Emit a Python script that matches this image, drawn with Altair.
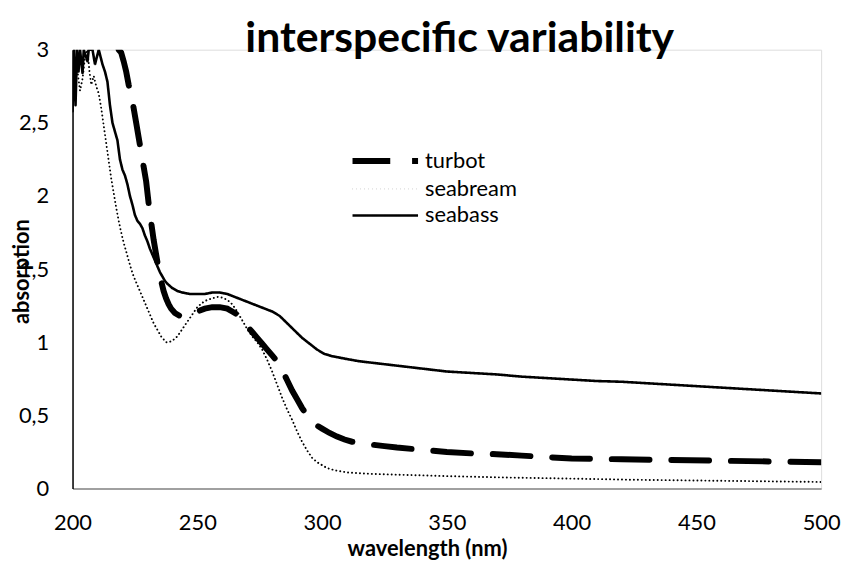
import altair as alt
import pandas as pd

FONT = "Lato"

series_names = ["turbot", "seabream", "seabass"]

turbot_nm = [218.5, 219.5, 220.5, 221.5, 222.5, 223.5, 224.5, 225.5, 226.5, 227.5, 228.5, 229.5,
             230.5, 231.5, 232.5, 233.5, 234.5, 235.5, 236.5, 237.5, 238.5, 239.5, 241, 243, 245,
             247, 250, 253, 256, 259, 262, 264, 266, 268, 270, 272, 274, 276, 278, 280, 282, 284,
             286, 288, 290, 292, 294, 296, 298, 300, 303, 306, 309, 312, 316, 320, 325, 330, 340,
             350, 360, 370, 380, 390, 400, 420, 440, 460, 480, 500]
turbot_abs = [3.0, 2.98, 2.92, 2.85, 2.76, 2.68, 2.6, 2.5, 2.4, 2.3, 2.2, 2.1,
              1.95, 1.82, 1.7, 1.6, 1.5, 1.42, 1.35, 1.3, 1.26, 1.23, 1.2, 1.18, 1.18,
              1.19, 1.21, 1.23, 1.24, 1.24, 1.23, 1.21, 1.19, 1.15, 1.11, 1.07, 1.03, 0.99, 0.95, 0.91, 0.87, 0.81,
              0.74, 0.67, 0.61, 0.55, 0.5, 0.46, 0.43, 0.41, 0.38, 0.355, 0.335, 0.32, 0.31, 0.30, 0.29, 0.28, 0.265,
              0.25, 0.24, 0.235, 0.225, 0.215, 0.205, 0.2, 0.195, 0.19, 0.185, 0.18]

seabream_nm = [200.5, 201.3, 202, 203, 204, 205, 206, 206.8, 207.5, 208.5, 209.5, 210.5, 211.5, 212.5,
               213.5, 214.5, 215.5, 216.5, 217.5, 218.5, 219.5, 220.5, 221.5, 222.5, 223.5, 224.5,
               225.5, 226.5, 227.5, 228.5, 229.5, 230.5, 231.5, 232.5, 233.5, 234.5, 235.5, 236.5,
               237.5, 238.5, 240, 242, 244, 246, 248, 250, 252, 254, 256, 258, 260, 262, 264, 266,
               268, 270, 272, 274, 276, 278, 280, 282, 284, 286, 288, 290, 292, 294, 296, 298, 300,
               302, 305, 310, 320, 330, 350, 375, 400, 425, 450, 475, 500]
seabream_abs = [2.7, 2.9, 2.85, 2.72, 2.8, 2.95, 3.0, 2.85, 2.76, 2.82, 2.75, 2.7, 2.6, 2.48,
                2.36, 2.24, 2.12, 2.02, 1.92, 1.83, 1.75, 1.68, 1.62, 1.56, 1.5, 1.45,
                1.41, 1.37, 1.33, 1.29, 1.25, 1.21, 1.17, 1.13, 1.1, 1.07, 1.04, 1.02,
                1.0, 1.0, 1.01, 1.04, 1.09, 1.14, 1.19, 1.24, 1.27, 1.29, 1.3, 1.31, 1.305, 1.29, 1.26, 1.21,
                1.15, 1.09, 1.04, 1.0, 0.95, 0.88, 0.8, 0.71, 0.62, 0.54, 0.47, 0.39, 0.32, 0.26, 0.21, 0.18, 0.16,
                0.14, 0.125, 0.11, 0.1, 0.095, 0.085, 0.075, 0.068, 0.06, 0.055, 0.05, 0.045]

seabass_nm = [200, 200.6, 201.2, 201.8, 202.4, 203, 204, 204.5, 206, 206.5, 208, 209, 210.5, 212,
              213, 214, 215, 216, 217, 218, 219, 220, 221, 222, 223, 224, 225, 226, 227, 228, 229,
              230, 231, 232, 233, 234, 235, 236, 237, 238, 240, 242, 244, 247, 250, 253, 256, 259,
              262, 265, 268, 271, 274, 277, 280, 283, 286, 289, 292, 295, 298, 301, 304, 307, 310,
              315, 320, 325, 330, 340, 350, 360, 370, 380, 390, 400, 410, 420, 430, 440, 450, 460,
              470, 480, 490, 500]
seabass_abs = [2.58, 3.0, 2.62, 3.0, 2.85, 3.0, 2.84, 3.0, 2.92, 3.0, 3.0, 2.9, 3.0, 2.9,
               2.85, 2.78, 2.62, 2.5, 2.44, 2.38, 2.25, 2.18, 2.14, 2.08, 2.0, 1.94, 1.87, 1.83, 1.81, 1.78, 1.73,
               1.69, 1.64, 1.6, 1.56, 1.52, 1.48, 1.45, 1.42, 1.4, 1.37, 1.35, 1.34, 1.33, 1.33, 1.33, 1.34, 1.34,
               1.33, 1.31, 1.29, 1.27, 1.25, 1.23, 1.21, 1.18, 1.13, 1.08, 1.03, 0.99, 0.95, 0.92, 0.905, 0.895, 0.885,
               0.87, 0.86, 0.85, 0.84, 0.82, 0.80, 0.79, 0.78, 0.765, 0.755, 0.745, 0.735, 0.73, 0.72, 0.71, 0.70, 0.69,
               0.68, 0.67, 0.66, 0.65]

x_ticks = [200, 250, 300, 350, 400, 450, 500]
y_ticks = [0, 0.5, 1, 1.5, 2, 2.5, 3]

rows = []
for name, xs, ys in [("turbot", turbot_nm, turbot_abs),
                     ("seabream", seabream_nm, seabream_abs),
                     ("seabass", seabass_nm, seabass_abs)]:
    for xv, yv in zip(xs, ys):
        rows.append({"series": name, "wavelength": xv, "absorption": yv})
df = pd.DataFrame(rows)

legend = alt.Legend(
    title=None, orient="none", legendX=304, legendY=101,
    symbolType="M-6,0L6,0", symbolSize=121, symbolStrokeColor="black",
    labelFont=FONT, labelFontSize=22, labelColor="black", labelOffset=29,
    rowPadding=5,
)

chart = alt.Chart(df).mark_line(clip=True, color="black", strokeCap="round").encode(
    x=alt.X("wavelength:Q",
            scale=alt.Scale(domain=[200, 500], nice=False, zero=False),
            axis=alt.Axis(values=x_ticks, ticks=False, grid=False, domainColor="#868686",
                          domainWidth=1.5, labelFont=FONT, labelFontSize=22, labelColor="black",
                          labelPadding=24, labelFlush=False, labelOverlap=False,
                          title="wavelength (nm)", titleFont=FONT,
                          titleFontSize=22, titleFontWeight="bold", titleColor="black",
                          titleX=357, titleY=60, titleBaseline="middle", titleAlign="center")),
    y=alt.Y("absorption:Q",
            scale=alt.Scale(domain=[0, 3], nice=False),
            axis=alt.Axis(values=y_ticks, ticks=False, grid=False, domainColor="black",
                          domainWidth=1.5, labelFont=FONT, labelFontSize=22, labelColor="black",
                          labelPadding=24, labelFlush=False, labelOverlap=False,
                          labelExpr="replace(toString(datum.value), '.', ',')",
                          title="absorption", titleFont=FONT, titleFontSize=22,
                          titleFontWeight="bold", titleColor="black",
                          titleX=-51, titleY=223, titleAngle=-90,
                          titleAlign="center", titleBaseline="middle")),
    strokeDash=alt.StrokeDash("series:N",
                              scale=alt.Scale(domain=series_names,
                                              range=[[38, 22], [0.1, 3.9], [1, 0]]),
                              legend=legend),
    strokeWidth=alt.StrokeWidth("series:N",
                                scale=alt.Scale(type="ordinal", domain=series_names,
                                                range=[6, 1.9, 2.6]),
                                legend=legend),
).properties(
    width=754, height=442,
    padding={"left": 65, "top": 40, "right": 20, "bottom": 73},
    autosize=alt.AutoSizeParams(type="none"),
    title=alt.TitleParams("interspecific variability", font=FONT, fontSize=43,
                          fontWeight="bold", color="black", anchor="middle", dx=13, dy=22,
                          offset=0),
).configure_view(stroke=None).configure(background="white")

chart.save("out.html", embed_options={"renderer": "svg", "actions": False})
